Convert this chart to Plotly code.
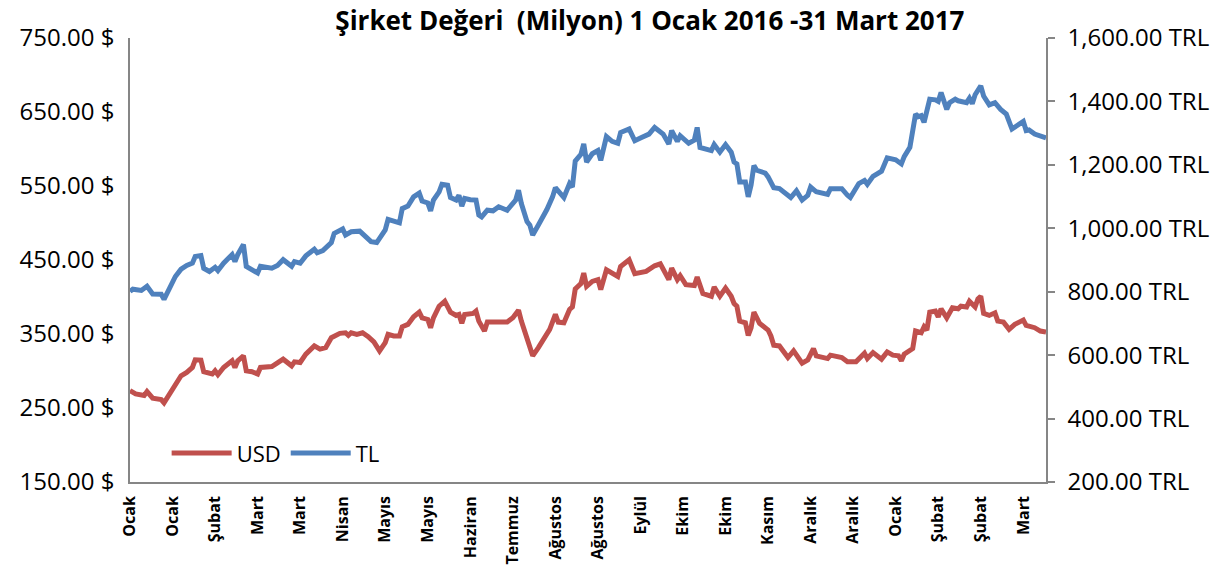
import plotly.graph_objects as go

# x ekseni: islem gunu sirasi (1 Ocak 2016 - 31 Mart 2017), her 15 gunde bir etiket
tick_days = list(range(0, 316, 15))
tick_labels = ['Ocak', 'Ocak', 'Şubat', 'Mart', 'Mart', 'Nisan', 'Mayıs', 'Mayıs', 'Haziran', 'Temmuz',
               'Ağustos', 'Ağustos', 'Eylül', 'Ekim', 'Ekim', 'Kasım', 'Aralık', 'Aralık', 'Ocak',
               'Şubat', 'Şubat', 'Mart']

# TL serisi (milyon TRL)
tl_days = [0, 1, 4, 6, 8, 11, 12, 14, 16, 18, 20, 22, 23, 25, 26, 28, 30, 31, 33, 36,
           37, 38, 40, 41, 43, 45, 46, 50, 52, 54, 57, 58, 60, 62, 65, 66, 68, 71, 72, 75,
           76, 78, 81, 83, 85, 87, 90, 91, 93, 95, 96, 98, 100, 102, 103, 105, 106, 107, 109, 110,
           112, 113, 115, 116, 117, 118, 120, 122, 123, 124, 126, 128, 130, 133, 136, 137, 138, 140, 141, 142,
           144, 146, 147, 149, 150, 153, 155, 156, 157, 159, 160, 161, 163, 165, 166, 168, 170, 172, 173, 176,
           178, 180, 183, 185, 188, 190, 191, 193, 194, 197, 199, 200, 201, 205, 206, 208, 210, 212, 213, 214,
           215, 217, 218, 219, 220, 221, 224, 225, 227, 229, 233, 235, 237, 239, 240, 242, 246, 247, 251, 253,
           254, 257, 259, 260, 262, 265, 267, 270, 272, 273, 275, 277, 278, 279, 280, 282, 284, 285, 286, 288,
           289, 291, 292, 295, 296, 297, 298, 300, 301, 303, 305, 307, 309, 311, 313, 315, 316, 317, 319, 321,
           323]
tl_values = [801, 808, 804, 817, 793, 792, 776, 812, 848, 871, 883, 890, 911, 914, 874, 864, 877, 867, 890, 917,
             895, 917, 949, 880, 871, 859, 880, 874, 883, 901, 880, 895, 890, 913, 934, 923, 930, 955, 984, 998,
             979, 989, 991, 974, 958, 955, 995, 1028, 1021, 1017, 1062, 1070, 1099, 1111, 1086, 1080, 1055, 1089, 1115, 1139,
             1136, 1097, 1089, 1104, 1070, 1094, 1090, 1089, 1042, 1036, 1057, 1055, 1068, 1057, 1089, 1120, 1078, 1021, 1010, 979,
             1010, 1038, 1059, 1099, 1128, 1097, 1141, 1130, 1212, 1233, 1266, 1209, 1235, 1245, 1214, 1289, 1274, 1268, 1302, 1313,
             1276, 1285, 1297, 1318, 1297, 1266, 1308, 1274, 1292, 1268, 1278, 1318, 1255, 1245, 1264, 1240, 1264, 1240, 1209, 1203,
             1146, 1146, 1099, 1136, 1198, 1183, 1174, 1162, 1128, 1125, 1097, 1118, 1089, 1104, 1130, 1115, 1107, 1125, 1125, 1104,
             1097, 1141, 1151, 1139, 1164, 1180, 1222, 1216, 1203, 1226, 1255, 1360, 1352, 1355, 1334, 1407, 1405, 1400, 1428, 1375,
             1396, 1407, 1402, 1396, 1410, 1393, 1421, 1449, 1417, 1389, 1396, 1375, 1360, 1313, 1323, 1337, 1308, 1310, 1297, 1292,
             1285]

# USD serisi (milyon $)
usd_days = [0, 2, 5, 6, 8, 11, 12, 14, 16, 18, 20, 22, 23, 25, 26, 29, 30, 31, 33, 36,
            37, 38, 40, 41, 43, 45, 46, 50, 52, 54, 57, 58, 60, 62, 65, 67, 69, 71, 74, 76,
            77, 78, 80, 82, 84, 86, 88, 90, 91, 93, 95, 96, 98, 100, 102, 103, 105, 106, 107, 109,
            111, 113, 115, 116, 117, 118, 121, 122, 123, 125, 126, 128, 130, 133, 135, 137, 138, 140, 142, 144,
            146, 148, 150, 151, 153, 155, 156, 157, 159, 160, 161, 163, 165, 166, 168, 170, 172, 173, 176, 178,
            180, 182, 185, 187, 190, 191, 193, 194, 196, 199, 200, 202, 205, 206, 208, 210, 212, 213, 214, 215,
            217, 218, 219, 220, 222, 225, 226, 227, 229, 232, 234, 237, 239, 241, 242, 246, 247, 251, 253, 256,
            259, 260, 262, 265, 267, 269, 271, 272, 273, 276, 277, 279, 280, 281, 282, 284, 285, 286, 288, 290,
            292, 293, 295, 296, 298, 299, 300, 301, 303, 305, 306, 308, 310, 312, 315, 316, 319, 321, 323]
usd_values = [273.5, 269.1, 266.8, 272.1, 263.2, 261.4, 257.0, 269.1, 282.5, 293.6, 298.1, 304.8, 315.1, 314.7, 299.0, 295.9, 300.3, 295.0, 304.8, 313.8,
              304.8, 313.8, 320.5, 300.3, 299.0, 295.9, 304.8, 306.1, 311.1, 316.0, 307.0, 312.4, 311.5, 322.7, 333.9, 329.5, 331.6, 345.0, 350.9, 351.7,
              348.2, 351.7, 349.6, 351.7, 346.4, 339.3, 327.2, 338.3, 349.6, 347.3, 347.3, 359.8, 363.0, 373.2, 379.5, 371.9, 369.7, 358.5, 371.9, 387.6,
              394.3, 379.5, 375.1, 376.4, 364.4, 376.4, 377.8, 380.9, 367.4, 354.0, 366.1, 366.1, 366.1, 366.1, 371.9, 382.2, 367.4, 345.0, 320.5, 331.6,
              342.9, 356.3, 376.4, 366.1, 365.2, 383.2, 386.6, 410.8, 418.0, 432.3, 414.4, 421.1, 423.4, 410.0, 436.8, 432.3, 427.8, 441.3, 450.3, 431.5,
              432.3, 434.6, 442.2, 444.9, 423.4, 439.0, 423.4, 428.8, 416.7, 415.4, 426.9, 404.6, 401.0, 413.5, 401.0, 412.1, 401.0, 391.2, 387.6, 367.4,
              365.2, 348.2, 358.5, 379.5, 364.4, 355.4, 347.3, 334.8, 333.9, 318.2, 327.2, 310.7, 315.1, 330.3, 320.5, 316.8, 321.4, 318.2, 312.4, 312.4,
              324.1, 316.8, 324.9, 316.0, 325.8, 321.4, 320.5, 313.8, 322.7, 330.3, 354.0, 351.7, 359.8, 355.4, 379.5, 380.9, 373.2, 384.0, 371.9, 385.3,
              384.0, 387.6, 386.6, 394.3, 386.6, 397.4, 401.0, 377.8, 375.1, 378.6, 367.4, 366.1, 356.3, 363.0, 368.8, 361.7, 358.5, 354.0, 352.7]

FONT = 'Open Sans'
AXIS_COLOR = '#868686'

fig = go.Figure()
fig.add_trace(go.Scatter(x=usd_days, y=usd_values, mode='lines', name='USD',
                         line=dict(color='#C0504D', width=5)))
fig.add_trace(go.Scatter(x=tl_days, y=tl_values, mode='lines', name='TL', yaxis='y2',
                         line=dict(color='#4F81BD', width=5)))

# sayfa govdesindeki 8px bosluk nedeniyle boyut ve kenar bosluklari ayarli
fig.update_layout(
    width=1218, height=569,
    margin=dict(l=119, r=180, t=27, b=95),
    paper_bgcolor='white', plot_bgcolor='white',
    font=dict(family=FONT, size=20, color='black'),
    title=dict(text='<b>Şirket Değeri  (Milyon) 1 Ocak 2016 -31 Mart 2017</b>',
               x=0.527, xanchor='center', xref='container', y=0.978, yanchor='middle',
               font=dict(size=26, family=FONT)),
    xaxis=dict(range=[0, 323], tickmode='array', tickvals=tick_days, ticktext=tick_labels,
               tickangle=-90, tickfont=dict(size=16, family=FONT, weight='bold'),
               showgrid=False, zeroline=False, showline=True, linecolor=AXIS_COLOR, linewidth=1.5,
               ticks='', ticklabelstandoff=6),
    yaxis=dict(range=[150, 750], tick0=150, dtick=100, tickformat='.2f', ticksuffix=' $',
               tickfont=dict(size=24),
               showgrid=False, zeroline=False, showline=True, linecolor=AXIS_COLOR, linewidth=1.5,
               ticks='', ticklabelstandoff=9),
    yaxis2=dict(range=[200, 1600], dtick=200, tickformat=',.2f', ticksuffix=' TRL',
                tickfont=dict(size=24),
                overlaying='y', side='right', showgrid=False, zeroline=False,
                showline=True, linecolor=AXIS_COLOR, linewidth=1.5,
                ticks='outside', ticklen=7, tickcolor=AXIS_COLOR, tickwidth=1.5,
                ticklabelstandoff=8),
    legend=dict(orientation='h', x=0.04, y=0.065, xanchor='left', yanchor='middle',
                bgcolor='rgba(0,0,0,0)', font=dict(size=22, family=FONT), itemwidth=60),
)

fig.write_html("out.html")
